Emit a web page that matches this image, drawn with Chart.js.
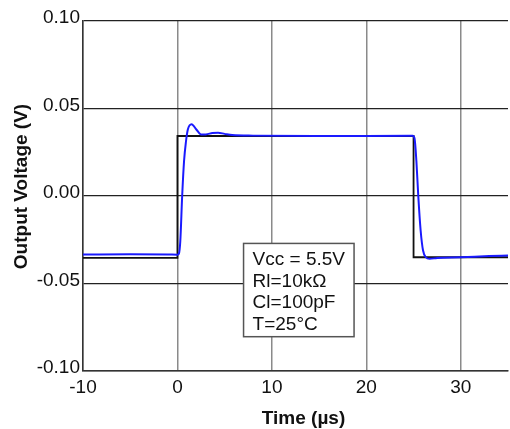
<!DOCTYPE html>
<html>
<head>
<meta charset="utf-8">
<script src="https://cdn.jsdelivr.net/npm/chart.js@4"></script>
<style>
  html, body { margin: 0; padding: 0; background: #fff; }
  #wrap { width: 510px; height: 429px; }
</style>
</head>
<body>
<div id="wrap"><canvas id="c" width="510" height="429"></canvas></div>
<script>
// Output response (blue) vs input step (black)
const outTime = [-10, -5, -1, 0, 0.15, 0.3, 0.5, 0.7, 0.9, 1.1, 1.5, 2.0, 2.5, 3.0, 3.7, 4.3, 5.0, 5.8, 8, 15, 24.9,
                 25.1, 25.3, 25.5, 25.75, 26.0, 26.3, 26.7, 27.5, 30, 33, 35];
const outVolt = [-0.0334, -0.0333, -0.0334, -0.0335, -0.033, -0.026, 0.0, 0.02, 0.031, 0.038, 0.041, 0.038, 0.0352, 0.0352, 0.036, 0.0362, 0.0355, 0.0348, 0.0345, 0.0343, 0.0344,
                 0.033, 0.02, 0.0, -0.0197, -0.031, -0.035, -0.0359, -0.0354, -0.035, -0.0343, -0.034];

const inTime = [-10, 0, 0, 25, 25, 35];
const inVolt = [-0.0353, -0.0353, 0.0343, 0.0343, -0.035, -0.035];

const xTicks = [-10, 0, 10, 20, 30];
const yTicks = [-0.10, -0.05, 0.00, 0.05, 0.10];
const noteLines = ["Vcc = 5.5V", "Rl=10kΩ", "Cl=100pF", "T=25°C"];
const xTitle = "Time (µs)";
const yTitle = "Output Voltage (V)";

const FONT = "'Liberation Sans', Arial, sans-serif";
const toPts = (xs, ys) => xs.map((x, i) => ({ x, y: ys[i] }));

// condition box, anchored in data coordinates
const noteBox = {
    id: "noteBox",
    afterDatasetsDraw(chart) {
        const { ctx, scales: { x, y } } = chart;
        const l = x.getPixelForValue(7), r = x.getPixelForValue(18.7);
        const t = y.getPixelForValue(-0.0271), b = y.getPixelForValue(-0.0804);
        ctx.save();
        ctx.fillStyle = "#fff";
        ctx.fillRect(l, t, r - l, b - t);
        ctx.strokeStyle = "#555";
        ctx.lineWidth = 1.5;
        ctx.strokeRect(l, t, r - l, b - t);
        ctx.fillStyle = "#111";
        ctx.font = "19px " + FONT;
        ctx.textBaseline = "alphabetic";
        noteLines.forEach((s, i) => ctx.fillText(s, l + 9, t + 22 + i * 21.4));
        ctx.restore();
    }
};

// axis titles sit a little off-centre in the original, so place them by hand
const axisTitles = {
    id: "axisTitles",
    afterDraw(chart) {
        const { ctx } = chart;
        ctx.save();
        ctx.fillStyle = "#111";
        ctx.font = "bold 19px " + FONT;
        ctx.textAlign = "center";
        ctx.textBaseline = "alphabetic";
        ctx.fillText(xTitle, 303.5, 423.5);
        ctx.translate(26.5, 186.5);
        ctx.rotate(-Math.PI / 2);
        ctx.fillText(yTitle, 0, 0);
        ctx.restore();
    }
};

new Chart(document.getElementById("c"), {
    type: "scatter",
    data: {
        datasets: [
            {
                label: "Output",
                data: toPts(outTime, outVolt),
                showLine: true,
                borderColor: "#1a1aff",
                borderWidth: 2,
                pointRadius: 0,
                cubicInterpolationMode: "monotone"
            },
            {
                label: "Input",
                data: toPts(inTime, inVolt),
                showLine: true,
                borderColor: "#111",
                borderWidth: 1.8,
                pointRadius: 0
            }
        ]
    },
    options: {
        responsive: false,
        animation: false,
        layout: { padding: { top: 21, right: 2, left: 0, bottom: 0 } },
        plugins: { legend: { display: false }, tooltip: { enabled: false } },
        scales: {
            x: {
                type: "linear",
                min: -10,
                max: 35,
                afterBuildTicks: s => { s.ticks = xTicks.map(v => ({ value: v })); },
                afterFit: s => { s.height = 58; },
                border: { color: "#333", width: 1.5 },
                grid: { color: "#8a8a8a", lineWidth: 1.5, drawTicks: false },
                ticks: {
                    padding: 5,
                    color: "#111",
                    font: { family: FONT, size: 19 }
                }
            },
            y: {
                type: "linear",
                min: -0.10,
                max: 0.10,
                afterBuildTicks: s => { s.ticks = yTicks.map(v => ({ value: v })); },
                afterFit: s => { s.width = 83; },
                border: { color: "#333", width: 1.5 },
                grid: { color: "#222", lineWidth: 1.3, drawTicks: false },
                ticks: {
                    padding: 3,
                    labelOffset: -3,
                    color: "#111",
                    font: { family: FONT, size: 19 },
                    callback: v => v.toFixed(2)
                }
            }
        }
    },
    plugins: [noteBox, axisTitles]
});
</script>
</body>
</html>
